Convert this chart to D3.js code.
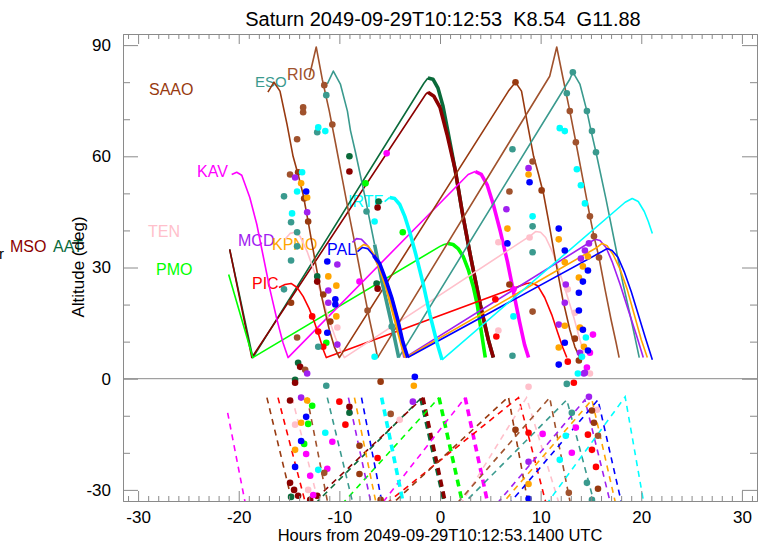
<!DOCTYPE html>
<html><head><meta charset="utf-8">
<script src="https://cdn.jsdelivr.net/npm/d3@7"></script>
<style>
body{margin:0;background:#fff;}
svg text{font-family:"Liberation Sans",Arial,Helvetica,sans-serif;}
</style></head><body>
<svg id="c" width="765" height="546"></svg>
<script>
// ---------- data: hours from epoch, altitude (deg) ----------
const xTicks = [-30,-20,-10,0,10,20,30];
const yTicks = [-30,0,30,60,90];
const titleText = "Saturn 2049-09-29T10:12:53  K8.54  G11.88";
const xTitle = "Hours from 2049-09-29T10:12:53.1400 UTC";
const yTitle = "Altitude (deg)";

const altMSO = [[-20.9,34.9],[-18.7,5.7],[-1.4,76.8],[-1.2,77.3]];
const altMSOBold = [[-1.2,77.3],[-0.6,76.2],[0,73.2],[0.7,65.9],[1.5,56.5],[2.2,45.1],[3.0,33.5],[4.0,20.0],[4.8,10.5],[5.3,5.7]];
const sunMSO = [[-18.7,-48.7],[-1.7,-5.1]];
const sunMSOBold = [[-1.7,-5.1],[0.6,-34.3]];
const dotsMSO = [[-9.0,55.9],[-6.2,46.2],[-12.2,26.2],[-6.2,24.3],[-13.9,3.2],[-14.4,-1.1],[-14.9,-5.9],[-9.0,-7.6],[-14.9,-28.1],[-14.5,-30.0],[-14.1,-31.6],[-12.2,-31.6],[-12.9,-32.7]];

const altAAT = [[-20.9,34.9],[-18.6,5.7],[-1.6,79.7],[-1.2,81.1]];
const altAATBold = [[-1.2,81.1],[-0.7,80.8],[-0.2,78.4],[0.3,73.5],[0.8,66.5],[1.5,56.5],[2.2,45.1],[3.0,33.5],[4.0,20.0],[4.8,10.5],[5.3,5.7]];
const sunAAT = [[-18.6,-50.5],[-1.9,-5.3]];
const sunAATBold = [[-1.9,-5.3],[0.5,-34.3]];
const dotsAAT = [[-9.0,60.0],[-6.1,47.8],[-12.2,27.6],[-14.1,4.3],[-14.4,-0.3],[-9.0,-9.2],[-14.8,-31.9],[-6.3,25.7]];

const altPMO = [[-21.0,28.1],[-18.6,5.7],[0,35.7],[0.4,36.2],[0.8,36.5]];
const altPMOBold = [[0.8,36.5],[1.3,36.2],[1.8,35.1],[2.3,33.0],[2.8,29.5],[3.3,24.9],[3.7,20.0],[4.0,14.6],[4.3,9.2],[4.5,5.7]];
const sunPMO = [[-18.6,-60.3],[-0.1,-5.1]];
const sunPMOBold = [[-0.1,-5.1],[2.3,-34.3]];
const dotsPMO = [[-7.4,52.7],[-3.7,39.5],[-11.3,9.7],[-12.7,-7.3],[-13.1,-12.2],[-13.5,-17.6]];

const altKAV = [[-20.7,55.1],[-20.2,55.7],[-19.7,54.9],[-18.9,48.9],[-18.2,41.6],[-17.6,33.5],[-16.9,24.1],[-16.2,15.9],[-15.6,9.7],[-15.1,5.7],[2.8,55.1],[3.5,55.9]];
const altKAVBold = [[3.5,55.9],[4.1,55.1],[4.7,52.2],[5.3,47.0],[6.0,39.7],[6.7,31.6],[7.3,23.5],[7.9,15.4],[8.4,9.2],[8.8,5.7]];
const sunKAV = [[-21.1,-9.2],[-19.3,-34.3]];
const sunKAV2 = [[-15.1,-65.9],[2.5,-5.1]];
const sunKAVBold = [[2.5,-5.1],[4.8,-34.3]];
const dotsKAV = [[-5.3,60.8],[-8.0,26.2],[7.3,24.1],[15.2,11.9],[14.9,7.0],[14.6,3.0],[-10.7,-17.0],[-13.3,-20.3],[-11.2,-24.3],[-12.9,-26.2],[-12.6,-31.4],[10.2,-14.9],[13.5,-13.2],[13.1,-20.0]];

const altPIC = [[-16.0,24.6],[-15.4,25.4],[-14.8,25.7],[-14.2,24.6],[-13.6,22.2],[-13.0,18.9],[-12.5,15.4],[-12.0,11.4],[-11.6,7.8],[-11.3,5.7],[8.6,25.7],[9.1,25.9],[9.7,25.1],[10.4,21.9],[11.1,17.3],[11.7,12.4],[12.2,8.4],[12.6,5.7]];
const sunPIC = [[-16.1,-5.1],[-13.3,-34.3]];
const sunPIC2 = [[-11.3,-46.7],[7.8,-5.1],[10.6,-34.3]];
const dotsPIC = [[-12.7,16.8],[-12.1,12.7],[-11.6,8.6],[5.5,21.4],[5.6,11.4],[12.7,4.6],[-10.0,-6.2],[-9.4,-12.4],[-6.2,-21.4],[13.3,-1.1],[8.8,-14.6],[14.7,-15.1],[15.1,-19.2],[15.5,-23.8]];

const altTEN = [[-15.4,37.6],[-14.9,39.2],[-14.4,39.5],[-13.9,38.4],[-13.2,34.3],[-12.5,28.9],[-11.8,22.7],[-11.1,16.5],[-10.4,11.1],[-9.9,7.8],[-9.5,5.7],[9.0,38.6],[9.5,39.7],[10.0,39.5],[10.5,38.1],[11.2,34.1],[11.9,28.6],[12.6,22.7],[13.3,16.5],[13.9,10.5],[14.2,7.8],[14.4,5.7]];
const sunTEN = [[-14.7,-5.1],[-12.0,-34.3]];
const sunTEN2 = [[-9.5,-84.6],[8.6,-5.1],[11.9,-34.3]];
const dotsTEN = [[-10.2,13.8],[5.8,36.8],[5.8,13.0],[8.9,38.1],[12.7,24.1],[13.4,17.8],[14.9,1.4],[-14.4,-12.4],[-13.1,-30.0],[-4.0,-11.1],[8.8,-2.2],[15.6,-8.4]];

const altSAAO = [[-17.1,77.3],[-16.5,80.0],[-15.9,77.6],[-15.2,68.6],[-14.6,60.0],[-14.1,55.1],[-13.6,49.7],[-13.1,42.4],[-12.4,31.6],[-11.7,21.4],[-11.0,13.2],[-10.5,8.6],[-10.0,5.7],[6.8,77.6],[7.5,80.0],[8.1,77.6],[8.7,68.6],[9.3,60.0],[9.8,55.1],[10.3,49.7],[10.8,42.4],[11.5,31.6],[12.2,21.4],[12.9,13.2],[13.4,8.6],[13.9,5.7]];
const sunSAAO = [[-17.2,-5.1],[-14.6,-34.3]];
const sunSAAO2 = [[-10.0,-46.9],[6.8,-4.9],[8.8,-34.3]];
const dotsSAAO = [[-14.1,55.7],[-13.5,48.6],[-13.1,42.4],[7.5,80.0],[10.1,50.8],[-14.8,20.5],[-11.6,22.7],[-10.9,15.4],[-5.9,-0.8],[-8.0,-18.1],[-8.0,-25.7],[-5.9,-32.7],[6.9,25.4],[13.4,10.8],[13.8,4.9],[7.5,-13.8],[15.3,-11.9],[15.1,-8.6],[15.7,-29.7]];

const altRIO = [[-13.0,81.4],[-12.3,89.5],[-11.7,80.8],[-11.0,72.2],[-10.4,63.8],[-9.7,53.8],[-9.0,43.8],[-8.6,38.4],[-8.2,32.7],[-7.6,24.1],[-7.0,15.9],[-6.5,9.7],[-6.2,5.7],[10.9,81.6],[11.6,89.5],[12.2,81.4],[12.9,72.2],[13.5,63.8],[14.2,53.8],[14.9,43.8],[15.3,38.4],[15.8,32.7],[16.4,24.1],[17.0,15.9],[17.5,9.7],[17.8,5.7]];
const sunRIO = [[-13.2,-5.1],[-11.1,-34.3]];
const sunRIO2 = [[-6.2,-58.1],[10.9,-5.1],[13.0,-34.3]];
const dotsRIO = [[-13.6,73.2],[-13.6,71.9],[-14.2,64.6],[-14.9,55.1],[-11.5,79.2],[-10.7,68.6],[-14.2,11.1],[-7.2,18.4],[12.9,72.2],[13.5,63.8],[9.2,58.6],[6.9,50.5],[14.9,43.8],[15.3,38.4],[15.8,32.7],[9.2,18.1],[-13.4,2.4],[-4.9,-9.5],[-11.5,-25.4],[15.7,-15.4],[12.8,-30.8]];

const altESO = [[-11.2,79.5],[-10.6,83.0],[-9.9,79.5],[-9.2,72.2],[-8.9,67.0],[-8.4,61.1],[-7.4,48.4],[-6.5,36.2]];
const altESOBold = [[-6.5,36.2],[-5.7,25.4],[-4.9,15.9],[-4.1,5.7]];
const altESO2 = [[-4.1,5.7],[12.9,80.8],[13.2,82.7],[13.9,79.5],[14.6,72.2],[15.0,67.0],[15.5,61.1],[16.5,48.4],[17.4,36.2],[18.2,25.4],[19.0,15.9],[19.8,5.7]];
const sunESO = [[-11.2,-5.1],[-8.6,-34.3]];
const sunESO2 = [[-4.1,-51.3],[12.6,-5.7],[15.4,-34.3]];
const dotsESO = [[-11.3,76.5],[-12.2,66.5],[-15.5,49.2],[-14.8,42.2],[-14.2,39.5],[-14.2,35.7],[-14.8,31.9],[-15.5,24.1],[-7.3,45.1],[-4.8,14.1],[-12.1,8.6],[13.2,82.7],[12.6,77.0],[14.6,72.2],[15.1,66.8],[15.5,61.1],[7.2,61.9],[9.2,41.1],[9.2,34.1],[7.2,6.2],[-11.3,-1.9],[12.6,-1.4],[13.1,-9.2],[14.6,-28.1],[15.1,-32.7]];

const altMCD = [[-8.7,36.8],[-8.3,37.8],[-7.8,37.6],[-7.2,35.9],[-6.6,33.5]];
const altMCDBold = [[-6.6,33.5],[-6.0,30.5],[-5.4,26.2],[-4.8,21.4],[-4.2,15.4],[-3.8,10.5],[-3.5,5.7]];
const altMCD2 = [[-3.5,5.7],[14.9,36.8],[15.4,37.6],[15.9,37.3],[16.5,35.4],[17.1,31.6],[17.9,25.4],[18.7,18.6],[19.5,11.9],[20.2,5.7]];
const sunMCD = [[-9.1,-5.1],[-6.8,-34.3]];
const sunMCD2 = [[-3.5,-63.1],[14.4,-5.7],[17.0,-34.3]];
const dotsMCD = [[-14.4,54.3],[-13.2,44.9],[-10.2,30.8],[-11.1,23.8],[-11.1,20.5],[-10.2,9.2],[6.6,45.7],[8.8,56.8],[12.5,25.4],[12.4,20.5],[11.8,14.6],[14.8,36.5],[14.4,34.6],[14.0,32.4],[13.9,7.0],[14.4,1.6],[-13.2,1.4],[-13.8,-5.1],[-2.7,-6.2],[14.3,1.4],[14.8,-4.9],[8.8,-22.4]];

const altKPNO = [[-8.2,34.9],[-7.6,36.2],[-7.1,35.7],[-6.5,33.2]];
const altKPNOBold = [[-6.5,33.2],[-5.9,29.5],[-5.3,24.6],[-4.7,18.6],[-4.1,12.4],[-3.7,8.4],[-3.4,5.7]];
const altKPNO2 = [[-3.4,5.7],[15.6,35.4],[16.1,36.5],[16.6,35.9],[17.2,33.5],[17.9,29.5],[18.6,24.1],[19.3,17.3],[20.0,10.5],[20.6,5.7]];
const sunKPNO = [[-8.5,-5.1],[-6.3,-34.3]];
const sunKPNO2 = [[-3.4,-63.8],[15.1,-5.7],[17.5,-34.3]];
const dotsKPNO = [[-13.8,52.7],[-13.2,48.9],[-11.1,27.6],[-10.3,25.1],[-10.3,16.8],[6.7,40.5],[8.8,55.1],[11.8,37.6],[12.4,31.4],[12.4,14.3],[11.8,8.4],[14.7,33.0],[14.2,30.3],[13.8,27.3],[13.9,13.8],[14.3,8.6],[-13.2,-5.9],[-13.8,-11.9],[-14.4,-19.2],[-2.6,-1.9],[8.8,-28.4]];

const altPAL = [[-8.2,34.3],[-7.7,35.4],[-7.2,35.1],[-6.6,33.2]];
const altPALBold = [[-6.6,33.2],[-6.0,31.1],[-5.4,26.8],[-4.8,21.9],[-4.2,15.9],[-3.7,10.0],[-3.2,5.7]];
const altPAL2 = [[-3.2,5.7],[16.1,34.3],[16.6,35.1],[17.1,34.6],[17.7,32.7],[18.3,28.9],[19.0,23.5],[19.7,17.3],[20.4,11.1],[21.1,5.1]];
const sunPAL = [[-7.8,-5.1],[-5.7,-34.3]];
const sunPAL2 = [[-3.2,-65.8],[15.7,-5.7],[18.1,-34.3]];
const dotsPAL = [[-13.3,50.5],[-11.2,31.6],[-10.4,21.4],[-10.4,20.0],[-11.2,12.4],[6.7,36.5],[8.9,53.0],[11.8,40.5],[12.4,34.6],[12.4,9.7],[11.8,3.8],[14.7,29.2],[14.2,26.2],[13.8,23.2],[13.8,18.4],[14.2,13.2],[14.7,7.6],[-2.5,0.5],[-13.3,-10.3],[-13.8,-16.8],[-14.4,-23.8],[8.8,-32.4]];

const altIRTF = [[-5.5,47.8],[-5.0,48.9]];
const altIRTFBold = [[-5.0,48.9],[-4.5,48.6],[-4.0,47.0],[-3.5,43.8],[-3.0,39.5],[-2.4,33.5],[-1.7,25.9],[-1.0,17.3],[-0.3,9.7],[0.2,5.1]];
const altIRTF2 = [[0.2,5.1],[18.4,47.6],[19.1,48.6],[19.7,47.8],[20.3,45.1],[20.7,42.4],[21.1,39.2]];
const sunIRTF = [[0.2,-72.3],[18.4,-4.9],[20.3,-34.3]];
const sunIRTFBold = [[-5.8,-5.1],[-3.6,-34.3]];
const dotsIRTF = [[-13.7,55.7],[-14.2,50.5],[-14.7,44.6],[-12.1,67.8],[-11.4,66.8],[-6.5,42.4],[-6.5,5.9],[11.9,67.6],[12.4,66.8],[13.6,56.5],[14.0,52.2],[14.4,47.3],[9.2,43.8],[7.3,16.8],[14.5,11.1],[14.1,5.9],[13.7,1.4],[-11.4,-14.6],[-12.1,-24.6],[12.5,-15.4],[11.9,-21.9]];

// ---------- assembly ----------
const sites = [
  {name:"AAT",  color:"#0a6a3a", thin:[altAAT], bold:[altAATBold], dash:[sunAAT], dashBold:[sunAATBold], dots:dotsAAT},
  {name:"MSO",  color:"#8b0000", thin:[altMSO], bold:[altMSOBold], dash:[sunMSO], dashBold:[sunMSOBold], dots:dotsMSO},
  {name:"PMO",  color:"#00ff00", thin:[altPMO], bold:[altPMOBold], dash:[sunPMO], dashBold:[sunPMOBold], dots:dotsPMO},
  {name:"KAV",  color:"#ff00ff", thin:[altKAV], bold:[altKAVBold], dash:[sunKAV,sunKAV2], dashBold:[sunKAVBold], dots:dotsKAV},
  {name:"PIC",  color:"#ff0000", thin:[altPIC], bold:[], dash:[sunPIC,sunPIC2], dashBold:[], dots:dotsPIC},
  {name:"TEN",  color:"#ffc0cb", thin:[altTEN], bold:[], dash:[sunTEN,sunTEN2], dashBold:[], dots:dotsTEN},
  {name:"SAAO", color:"#983a10", thin:[altSAAO], bold:[], dash:[sunSAAO,sunSAAO2], dashBold:[], dots:dotsSAAO},
  {name:"RIO",  color:"#a0522d", thin:[altRIO], bold:[], dash:[sunRIO,sunRIO2], dashBold:[], dots:dotsRIO},
  {name:"ESO",  color:"#3a9a8e", thin:[altESO,altESO2], bold:[altESOBold], dash:[sunESO,sunESO2], dashBold:[], dots:dotsESO},
  {name:"MCD",  color:"#a020f0", thin:[altMCD,altMCD2], bold:[altMCDBold], dash:[sunMCD,sunMCD2], dashBold:[], dots:dotsMCD},
  {name:"KPNO", color:"#ffa500", thin:[altKPNO,altKPNO2], bold:[altKPNOBold], dash:[sunKPNO,sunKPNO2], dashBold:[], dots:dotsKPNO},
  {name:"PAL",  color:"#0000ff", thin:[altPAL,altPAL2], bold:[altPALBold], dash:[sunPAL,sunPAL2], dashBold:[], dots:dotsPAL},
  {name:"IRTF", color:"#00ffff", thin:[altIRTF,altIRTF2], bold:[altIRTFBold], dash:[sunIRTF], dashBold:[sunIRTFBold], dots:dotsIRTF}
];
// label anchor positions (page pixels)
const labelPos = {SAAO:[149,95],ESO:[255,87],RIO:[287,80],KAV:[197,177],TEN:[148,237],MCD:[238,246],
  KPNO:[272,250],PAL:[327,255],PIC:[252,289],PMO:[156,275],MSO:[10,252],AAT:[53,252],IRTF:[348,207]};
const labelSize = {ESO:15};

const svg = d3.select("#c");
const L=123,R=757,T=34,B=501;
const x = d3.scaleLinear().domain([-31.5,31.5]).range([L,R]);
const y = d3.scaleLinear().domain([-33,93]).range([B,T]);
const axisColor = "#8a8a8a";

svg.append("rect").attr("width",765).attr("height",546).attr("fill","#fff");
svg.append("defs").append("clipPath").attr("id","pc").append("rect")
  .attr("x",L).attr("y",T).attr("width",R-L).attr("height",B-T);

// title
svg.append("text").attr("x",443).attr("y",26).attr("text-anchor","middle")
  .attr("font-size",20).style("white-space","pre").attr("fill","#000").text(titleText);

// site labels (drawn under curves)
sites.forEach(s=>{
  const p = labelPos[s.name];
  svg.append("text").attr("x",p[0]).attr("y",p[1]).attr("font-size",labelSize[s.name]||16)
    .attr("fill",s.color).text(s.name);
});
svg.append("text").attr("x",-1).attr("y",259).attr("font-size",15).attr("fill","#000").text("r");

// zero line
svg.append("line").attr("x1",L).attr("x2",R).attr("y1",y(0)).attr("y2",y(0))
  .attr("stroke",axisColor).attr("stroke-width",1);

const g = svg.append("g").attr("clip-path","url(#pc)");
const line = d3.line().x(d=>x(d[0])).y(d=>y(d[1]));
sites.forEach(s=>{
  s.thin.forEach(a=>g.append("path").attr("d",line(a)).attr("fill","none").attr("stroke",s.color)
     .attr("stroke-width",1.6).attr("stroke-linejoin","round"));
  s.bold.forEach(a=>g.append("path").attr("d",line(a)).attr("fill","none").attr("stroke",s.color)
     .attr("stroke-width",3.6).attr("stroke-linejoin","round"));
  s.dash.forEach(a=>g.append("path").attr("d",line(a)).attr("fill","none").attr("stroke",s.color)
     .attr("stroke-width",1.6).attr("stroke-dasharray","6,5"));
  s.dashBold.forEach(a=>g.append("path").attr("d",line(a)).attr("fill","none").attr("stroke",s.color)
     .attr("stroke-width",3.6).attr("stroke-dasharray","7,5"));
});
sites.forEach(s=>{
  g.selectAll(null).data(s.dots).enter().append("circle")
    .attr("cx",d=>x(d[0])).attr("cy",d=>y(d[1])).attr("r",3.3).attr("fill",s.color);
});

// axes (IDL style: inward ticks on all four sides)
const fmt = d=>String(d);
function styleAxis(sel){
  sel.selectAll("path,line").attr("stroke",axisColor).attr("stroke-width",1);
  sel.selectAll("text").attr("font-size",17).attr("fill","#000")
     .attr("font-family","Liberation Sans, Arial, sans-serif");
}
const minorX = d3.range(-31,32,1).filter(v=>v%10!==0);
const minorY = d3.range(-30,91,10).filter(v=>v%30!==0);

svg.append("g").attr("transform",`translate(0,${B})`)
  .call(d3.axisBottom(x).tickValues(xTicks).tickFormat(fmt).tickSize(-10).tickPadding(10).tickSizeOuter(0)).call(styleAxis);
svg.append("g").attr("transform",`translate(0,${B})`)
  .call(d3.axisBottom(x).tickValues(minorX).tickFormat("").tickSize(-5).tickSizeOuter(0)).call(styleAxis);
svg.append("g").attr("transform",`translate(0,${T})`)
  .call(d3.axisTop(x).tickValues(xTicks).tickFormat("").tickSize(-10).tickSizeOuter(0)).call(styleAxis);
svg.append("g").attr("transform",`translate(0,${T})`)
  .call(d3.axisTop(x).tickValues(minorX).tickFormat("").tickSize(-5).tickSizeOuter(0)).call(styleAxis);
svg.append("g").attr("transform",`translate(${L},0)`)
  .call(d3.axisLeft(y).tickValues(yTicks).tickFormat(fmt).tickSize(-15).tickPadding(12).tickSizeOuter(0)).call(styleAxis);
svg.append("g").attr("transform",`translate(${L},0)`)
  .call(d3.axisLeft(y).tickValues(minorY).tickFormat("").tickSize(-7).tickSizeOuter(0)).call(styleAxis);
svg.append("g").attr("transform",`translate(${R},0)`)
  .call(d3.axisRight(y).tickValues(yTicks).tickFormat("").tickSize(-15).tickSizeOuter(0)).call(styleAxis);
svg.append("g").attr("transform",`translate(${R},0)`)
  .call(d3.axisRight(y).tickValues(minorY).tickFormat("").tickSize(-7).tickSizeOuter(0)).call(styleAxis);

// axis titles
svg.append("text").attr("x",440).attr("y",541).attr("text-anchor","middle").attr("font-size",16.5)
  .attr("fill","#000").text(xTitle);
svg.append("text").attr("transform","translate(84,267) rotate(-90)").attr("text-anchor","middle")
  .attr("font-size",17).attr("fill","#000").text(yTitle);
</script>
</body></html>
